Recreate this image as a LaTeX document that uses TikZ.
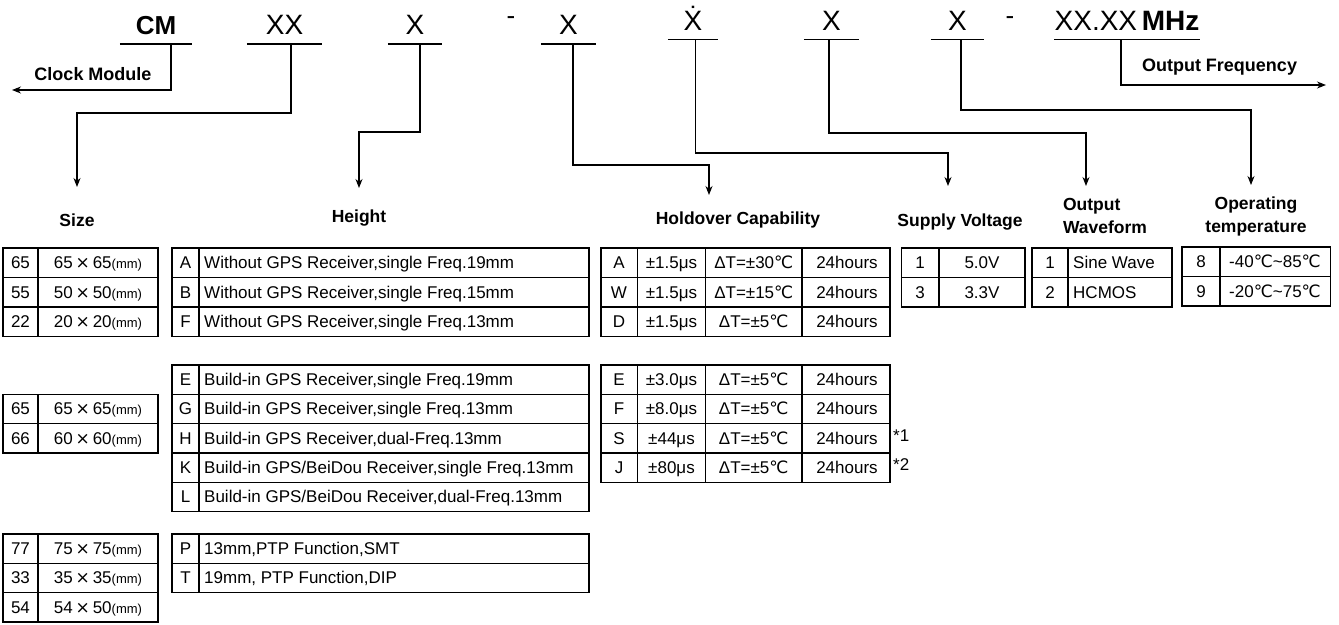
\documentclass[tikz,border=0pt]{standalone}
\usepackage{fontspec}
\setmainfont{Liberation Sans}
\newfontfamily\symfont{DejaVu Sans}
\usetikzlibrary{arrows.meta, positioning}

\newcommand{\degC}{{\symfont ℃}}
\newcommand{\by}{\,{\symfont ×}\,}
\newcommand{\mmunit}{{\fontsize{13}{13}\selectfont(mm)}}

\begin{document}
\begin{tikzpicture}[x=1pt, y=-1pt, >=Stealth,
    code/.style={inner xsep=0pt, inner ysep=9pt, text depth=0pt, anchor=south, font=\fontsize{28}{28}\selectfont},
    uline/.style={line width=1.1pt},
    arr/.style={->, line width=1.1pt, arrows={-Stealth[length=9pt, width=7pt]}},
    lbl/.style={font=\fontsize{18}{20}\selectfont\bfseries},
    head/.style={font=\fontsize{17.5}{23}\selectfont\bfseries},
    cell/.style={inner sep=0pt, text height=12pt, text depth=0pt, font=\fontsize{17}{20}\selectfont},
    grid/.style={line width=1.2pt}]

    \useasboundingbox (0,0) rectangle (1339,624);

    % Code nodes
    \node[code, minimum width=72, font=\fontsize{26}{26}\selectfont\bfseries] (cm) at (156,44) {CM};
    \node[code, minimum width=75] (xx) at (284.5,44) {XX};
    \node[code, minimum width=54] (xh) at (415,44) {X};
    \node (d1) at (511,21) [font=\fontsize{26}{26}\selectfont] {-};
    \node[code, minimum width=55] (xd) at (568.5,44) {X};
    \node[code, minimum width=50] (xv) at (693,39.5) {\.{X}};
    \node[code, minimum width=55] (xw) at (831.5,39.5) {X};
    \node[code, minimum width=53] (xt) at (957.5,39.5) {X};
    \node (d2) at (1010,21) [font=\fontsize{26}{26}\selectfont] {-};
    \node[code, minimum width=112] (fq) at (1127,39.5) {XX.XX\,\textbf{MHz}};

    \foreach \n in {cm,xx,xh,xd,xv,xw,xt,fq}
        \draw[uline] (\n.south west) -- (\n.south east);

    % Arrow ends
    \coordinate (clk) at (12,90);
    \coordinate (fqEnd) at (1326,85);
    \coordinate (tipS) at (77,187);
    \coordinate (tipH) at (359,188);
    \coordinate (tipHo) at (709,195);
    \coordinate (tipSV) at (948,186);
    \coordinate (tipOW) at (1086,186);
    \coordinate (tipOT) at (1251,185);

    % Connectors
    \draw[arr] ([xshift=15]cm.south) |- (clk);
    \draw[arr] ([xshift=6.5]xx.south) -- ++(0,69) -| (tipS);
    \draw[arr] ([xshift=5]xh.south) -- ++(0,88) -| (tipH);
    \draw[arr] ([xshift=4.5]xd.south) -- ++(0,121) -| (tipHo);
    \draw[arr] ([xshift=2.5]xv.south) -- ++(0,113.5) -| (tipSV);
    \draw[arr] ([xshift=-2.5]xw.south) -- ++(0,93.5) -| (tipOW);
    \draw[arr] ([xshift=3.5]xt.south) -- ++(0,70.5) -| (tipOT);
    \draw[arr] ([xshift=-6]fq.south) |- (fqEnd);

    \node[lbl] (clkLbl) at (93,74) {Clock Module};
    \node[lbl] (fqLbl) at (1219.5,67) {Output Frequency};

    % Headings
    \node[head] (hSize) at (77,220) {Size};
    \node[head] (hHeight) at (359,218) {Height};
    \node[head] (hHold) at (738,220) {Holdover Capability};
    \node[head] (hSupply) at (960,222) {Supply Voltage};
    \node[head, align=left] (hWave) at (1105,216) {Output\\Waveform};
    \node[head, align=center] (hTemp) at (1256,216) {Operating\\temperature};

    % Size
    \foreach \k/\a/\b [count=\i from 0] in {65/65/65, 55/50/50, 22/20/20}{
        \draw[grid] (3,248+29.5*\i) rectangle (158,277.5+29.5*\i);
        \draw[grid] (38,248+29.5*\i) -- (38,277.5+29.5*\i);
        \node[cell] (sa\i) at (20.5,262.75+29.5*\i) {\k};
        \node[cell] (sav\i) at (98,262.75+29.5*\i) {\a\by\b\mmunit};
    }
    \foreach \k/\a/\b [count=\i from 0] in {65/65/65, 66/60/60}{
        \draw[grid] (3,394.3+29.3*\i) rectangle (158,423.6+29.3*\i);
        \draw[grid] (38,394.3+29.3*\i) -- (38,423.6+29.3*\i);
        \node[cell] (sb\i) at (20.5,408.95+29.3*\i) {\k};
        \node[cell] (sbv\i) at (98,408.95+29.3*\i) {\a\by\b\mmunit};
    }
    \foreach \k/\a/\b [count=\i from 0] in {77/75/75, 33/35/35, 54/54/50}{
        \draw[grid] (3,534+29.3*\i) rectangle (158,563.3+29.3*\i);
        \draw[grid] (38,534+29.3*\i) -- (38,563.3+29.3*\i);
        \node[cell] (sc\i) at (20.5,548.65+29.3*\i) {\k};
        \node[cell] (scv\i) at (98,548.65+29.3*\i) {\a\by\b\mmunit};
    }

    % Height
    \foreach \k/\t [count=\i from 0] in {A/{Without GPS Receiver,single Freq.19mm},
            B/{Without GPS Receiver,single Freq.15mm},
            F/{Without GPS Receiver,single Freq.13mm}}{
        \draw[grid] (172,248+29.5*\i) rectangle (589,277.5+29.5*\i);
        \draw[grid] (199,248+29.5*\i) -- (199,277.5+29.5*\i);
        \node[cell] (ha\i) at (185.5,262.75+29.5*\i) {\k};
        \node[cell, anchor=west] (hat\i) at (204,262.75+29.5*\i) {\t};
    }
    \foreach \k/\t [count=\i from 0] in {E/{Build-in GPS Receiver,single Freq.19mm},
            G/{Build-in GPS Receiver,single Freq.13mm},
            H/{Build-in GPS Receiver,dual-Freq.13mm},
            K/{Build-in GPS/BeiDou Receiver,single Freq.13mm},
            L/{Build-in GPS/BeiDou Receiver,dual-Freq.13mm}}{
        \draw[grid] (172,365+29.3*\i) rectangle (589,394.3+29.3*\i);
        \draw[grid] (199,365+29.3*\i) -- (199,394.3+29.3*\i);
        \node[cell] (hb\i) at (185.5,379.65+29.3*\i) {\k};
        \node[cell, anchor=west] (hbt\i) at (204,379.65+29.3*\i) {\t};
    }
    \foreach \k/\t [count=\i from 0] in {P/{13mm,PTP Function,SMT},
            T/{19mm, PTP Function,DIP}}{
        \draw[grid] (172,534+29.3*\i) rectangle (589,563.3+29.3*\i);
        \draw[grid] (199,534+29.3*\i) -- (199,563.3+29.3*\i);
        \node[cell] (hc\i) at (185.5,548.65+29.3*\i) {\k};
        \node[cell, anchor=west] (hct\i) at (204,548.65+29.3*\i) {\t};
    }

    % Holdover
    \foreach \k/\a/\b [count=\i from 0] in {A/{±1.5μs}/{ΔT=±30\degC},
            W/{±1.5μs}/{ΔT=±15\degC}, D/{±1.5μs}/{ΔT=±5\degC}}{
        \draw[grid] (601,248+29.5*\i) rectangle (890,277.5+29.5*\i);
        \draw[grid] (637.5,248+29.5*\i) -- (637.5,277.5+29.5*\i)
            (705.5,248+29.5*\i) -- (705.5,277.5+29.5*\i)
            (802,248+29.5*\i) -- (802,277.5+29.5*\i);
        \node[cell] (oa\i) at (619,262.75+29.5*\i) {\k};
        \node[cell] (oaa\i) at (671.5,262.75+29.5*\i) {\a};
        \node[cell] (oab\i) at (753.75,262.75+29.5*\i) {\b};
        \node[cell] (oac\i) at (847,262.75+29.5*\i) {24hours};
    }
    \foreach \k/\a [count=\i from 0] in {E/{±3.0μs}, F/{±8.0μs}, S/{±44μs}, J/{±80μs}}{
        \draw[grid] (601,365+29.3*\i) rectangle (890,394.3+29.3*\i);
        \draw[grid] (637.5,365+29.3*\i) -- (637.5,394.3+29.3*\i)
            (705.5,365+29.3*\i) -- (705.5,394.3+29.3*\i)
            (802,365+29.3*\i) -- (802,394.3+29.3*\i);
        \node[cell] (ob\i) at (619,379.65+29.3*\i) {\k};
        \node[cell] (oba\i) at (671.5,379.65+29.3*\i) {\a};
        \node[cell] (obb\i) at (753.75,379.65+29.3*\i) {ΔT=±5\degC};
        \node[cell] (obc\i) at (847,379.65+29.3*\i) {24hours};
    }
    \node[cell, anchor=west] (note1) at (893,435) {*1};
    \node[cell, anchor=west] (note2) at (893,464) {*2};

    % Supply voltage
    \foreach \k/\a [count=\i from 0] in {1/5.0V, 3/3.3V}{
        \draw[grid] (901.5,248+29.5*\i) rectangle (1025,277.5+29.5*\i);
        \draw[grid] (939,248+29.5*\i) -- (939,277.5+29.5*\i);
        \node[cell] (va\i) at (920,262.75+29.5*\i) {\k};
        \node[cell] (vv\i) at (982,262.75+29.5*\i) {\a};
    }

    % Output waveform
    \foreach \k/\a [count=\i from 0] in {1/Sine Wave, 2/HCMOS}{
        \draw[grid] (1032,248+29.5*\i) rectangle (1172,277.5+29.5*\i);
        \draw[grid] (1068,248+29.5*\i) -- (1068,277.5+29.5*\i);
        \node[cell] (wa\i) at (1050,262.75+29.5*\i) {\k};
        \node[cell, anchor=west] (wv\i) at (1073,262.75+29.5*\i) {\a};
    }

    % Operating temperature
    \foreach \k/\a [count=\i from 0] in {8/{-40\degC\char`\~85\degC}, 9/{-20\degC\char`\~75\degC}}{
        \draw[grid] (1182,247+29.5*\i) rectangle (1330.5,276.5+29.5*\i);
        \draw[grid] (1220,247+29.5*\i) -- (1220,276.5+29.5*\i);
        \node[cell] (ta\i) at (1201,261.75+29.5*\i) {\k};
        \node[cell] (tv\i) at (1275,261.75+29.5*\i) {\a};
    }

\end{tikzpicture}
\end{document}
